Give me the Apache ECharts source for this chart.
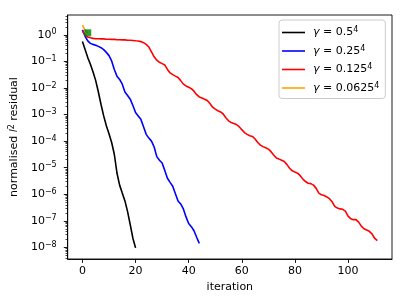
<!DOCTYPE html>
<html>
<head>
<meta charset="utf-8">
<script src="https://cdn.jsdelivr.net/npm/echarts@6/dist/echarts.min.js"></script>
<style>
html,body{margin:0;padding:0;background:#fff;}
#chart{width:407px;height:305px;}
</style>
</head>
<body>
<div id="chart"></div>
<script>
// ---- data (normalised l2 residual per iteration, index = iteration) ----
var seriesNames = ['γ = 0.5^4', 'γ = 0.25^4', 'γ = 0.125^4', 'γ = 0.0625^4'];
var residualGamma05 = [5.6e-1, 2.8e-1, 1.4e-1, 7.9e-2, 4.0e-2, 1.9e-2, 7.1e-3, 2.4e-3, 8.9e-4, 3.8e-4,
  1.9e-4, 8.9e-5, 3.2e-5, 6.3e-6, 2.2e-6, 1.1e-6, 5.6e-7, 2.2e-7, 7.1e-8, 2.2e-8, 9.5e-9];
var residualGamma025 = [1.55, 8.9e-1, 6.0e-1, 4.8e-1, 4.4e-1, 4.1e-1, 3.7e-1, 3.3e-1, 2.8e-1, 2.2e-1,
  1.66e-1, 1.05e-1, 5.0e-2, 2.8e-2, 2.1e-2, 1.4e-2, 7.1e-3, 5.2e-3, 3.8e-3, 2.2e-3,
  1.2e-3, 8.9e-4, 6.6e-4, 3.5e-4, 1.8e-4, 1.3e-4, 1.0e-4, 6.0e-5, 2.6e-5, 1.9e-5,
  1.5e-5, 7.9e-6, 4.0e-6, 2.8e-6, 2.0e-6, 1.05e-6, 5.6e-7, 4.3e-7, 2.8e-7, 1.4e-7,
  7.9e-8, 6.0e-8, 4.2e-8, 2.4e-8, 1.4e-8];
var residualGamma0125 = [1.41, 1.0, 8.3e-1, 7.8e-1, 7.4e-1, 7.2e-1, 7.2e-1, 7.1e-1, 7.1e-1, 6.9e-1,
  6.9e-1, 6.8e-1, 6.8e-1, 6.6e-1, 6.6e-1, 6.5e-1, 6.5e-1, 6.3e-1, 6.3e-1, 6.2e-1,
  6.0e-1, 5.9e-1, 5.6e-1, 5.1e-1, 4.4e-1, 3.5e-1, 2.3e-1, 1.5e-1, 1.12e-1, 9.3e-2,
  8.3e-2, 7.4e-2, 5.0e-2, 3.7e-2, 3.2e-2, 2.8e-2, 2.5e-2, 1.9e-2, 1.4e-2, 1.2e-2,
  1.07e-2, 9.5e-3, 7.6e-3, 5.6e-3, 4.6e-3, 4.2e-3, 3.8e-3, 3.4e-3, 2.6e-3, 1.9e-3,
  1.6e-3, 1.4e-3, 1.26e-3, 1.05e-3, 7.6e-4, 5.8e-4, 5.0e-4, 4.6e-4, 4.2e-4, 3.5e-4,
  2.7e-4, 2.1e-4, 1.8e-4, 1.6e-4, 1.5e-4, 1.2e-4, 8.9e-5, 7.1e-5, 6.2e-5, 5.6e-5,
  5.0e-5, 4.0e-5, 3.0e-5, 2.3e-5, 2.1e-5, 1.9e-5, 1.7e-5, 1.3e-5, 9.5e-6, 7.6e-6,
  6.8e-6, 6.2e-6, 5.0e-6, 3.7e-6, 3.0e-6, 2.6e-6, 2.5e-6, 2.2e-6, 1.66e-6, 1.1e-6,
  9.5e-7, 8.9e-7, 7.9e-7, 6.8e-7, 5.2e-7, 3.5e-7, 3.0e-7, 2.8e-7, 2.7e-7, 2.3e-7,
  1.5e-7, 1.2e-7, 1.1e-7, 1.1e-7, 8.9e-8, 6.3e-8, 5.0e-8, 4.5e-8, 4.0e-8, 3.2e-8,
  2.2e-8, 1.8e-8];
var residualGamma00625 = [2.35, 1.5, 1.2];
var finalPoint = [[2, 1.2]];
var xTickValues = [0, 20, 40, 60, 80, 100];
var yTickExponents = [-8, -7, -6, -5, -4, -3, -2, -1, 0];

// ---- build ----
function toPairs(arr) {
  return arr.map(function (v, i) { return [i, Math.log10(v)]; });
}
var minorTicks = [];
for (var e = -9; e <= 0; e++) {
  for (var k = 2; k <= 9; k++) {
    var lv = e + Math.log10(k);
    if (lv > -8.44 && lv < 0.75) minorTicks.push(lv);
  }
}
var FONT = 'DejaVu Sans';
var legendRich = {
  g: { fontFamily: FONT, fontSize: 11, fontStyle: 'italic', color: '#000' },
  t: { fontFamily: FONT, fontSize: 11, color: '#000' },
  s: { fontFamily: FONT, fontSize: 8, color: '#000', verticalAlign: 'top', lineHeight: 13 }
};
function legendLabel(name) {
  var parts = name.split('^');
  var base = parts[0].replace('γ', '');
  return '{g|γ}{t|' + base + '}{s|' + parts[1] + '}';
}
var colors = ['#000000', '#0000ff', '#ff0000', '#ffa500'];
var datasets = [residualGamma05, residualGamma025, residualGamma0125, residualGamma00625];
var series = datasets.map(function (d, i) {
  return {
    name: seriesNames[i], type: 'line', data: toPairs(d), symbol: 'none',
    xAxisIndex: 0, yAxisIndex: 0,
    lineStyle: { color: colors[i], width: 1.6 }, itemStyle: { color: colors[i] },
    z: 2 + i
  };
});
series.push({
  name: 'final', type: 'scatter', data: finalPoint.map(function (p) { return [p[0], Math.log10(p[1])]; }),
  symbol: 'rect', symbolSize: 7, itemStyle: { color: '#008000' }, z: 10
});

var chart = echarts.init(document.getElementById('chart'), null, { renderer: 'canvas' });
chart.setOption({
  animation: false,
  backgroundColor: '#fff',
  grid: { left: 62, top: 15, width: 330, height: 244, show: true, borderColor: '#000', borderWidth: 0.9, backgroundColor: 'transparent' },
  legend: {
    data: seriesNames, orient: 'vertical', left: 279, top: 20,
    padding: [6, 6, 5, 3], itemGap: 6.5, itemWidth: 23, itemHeight: 1.6, icon: 'rect',
    backgroundColor: 'rgba(255,255,255,0.85)', borderColor: '#cccccc', borderWidth: 1, borderRadius: 3,
    formatter: legendLabel,
    textStyle: { fontFamily: FONT, fontSize: 11, color: '#000', padding: [0, 0, 0, 3], rich: legendRich }
  },
  xAxis: {
    type: 'value', min: -5.55, max: 116.55,
    name: 'iteration', nameLocation: 'middle', nameGap: 22,
    nameTextStyle: { fontFamily: FONT, fontSize: 11, color: '#000' },
    axisLine: { show: true, onZero: false, lineStyle: { color: '#000', width: 0.9 } },
    axisTick: { show: true, customValues: xTickValues, length: 3.9, lineStyle: { color: '#000', width: 0.9 } },
    axisLabel: { customValues: xTickValues, margin: 7, fontFamily: FONT, fontSize: 11, color: '#000' },
    splitLine: { show: false }
  },
  yAxis: [{
    type: 'value', min: -8.44, max: 0.75, position: 'left',
    name: '{t|normalised }{i|l}{s|2}{t| residual}', nameLocation: 'middle', nameGap: 33, nameRotate: 90,
    nameTextStyle: { fontFamily: FONT, fontSize: 11, color: '#000', rich: {
      t: { fontFamily: FONT, fontSize: 11, color: '#000' },
      i: { fontFamily: FONT, fontSize: 11, fontStyle: 'italic', color: '#000' },
      s: { fontFamily: FONT, fontSize: 8, color: '#000', verticalAlign: 'top', lineHeight: 13 }
    } },
    axisLine: { show: true, onZero: false, lineStyle: { color: '#000', width: 0.9 } },
    axisTick: { show: true, customValues: yTickExponents, length: 3.9, lineStyle: { color: '#000', width: 0.9 } },
    axisLabel: {
      customValues: yTickExponents, margin: 11,
      formatter: function (v) { return '{b|10}{s|' + (v < 0 ? '−' + (-v) : v) + '}'; },
      rich: {
        b: { fontFamily: FONT, fontSize: 11, color: '#000' },
        s: { fontFamily: FONT, fontSize: 8, color: '#000', verticalAlign: 'top', lineHeight: 13 }
      }
    },
    splitLine: { show: false }
  }, {
    type: 'value', min: -8.44, max: 0.75, position: 'left',
    axisLine: { show: false, onZero: false },
    axisTick: { show: true, customValues: minorTicks, length: 2.2, lineStyle: { color: '#000', width: 0.7 } },
    axisLabel: { show: false },
    splitLine: { show: false }
  }],
  series: series
});
</script>
</body>
</html>
